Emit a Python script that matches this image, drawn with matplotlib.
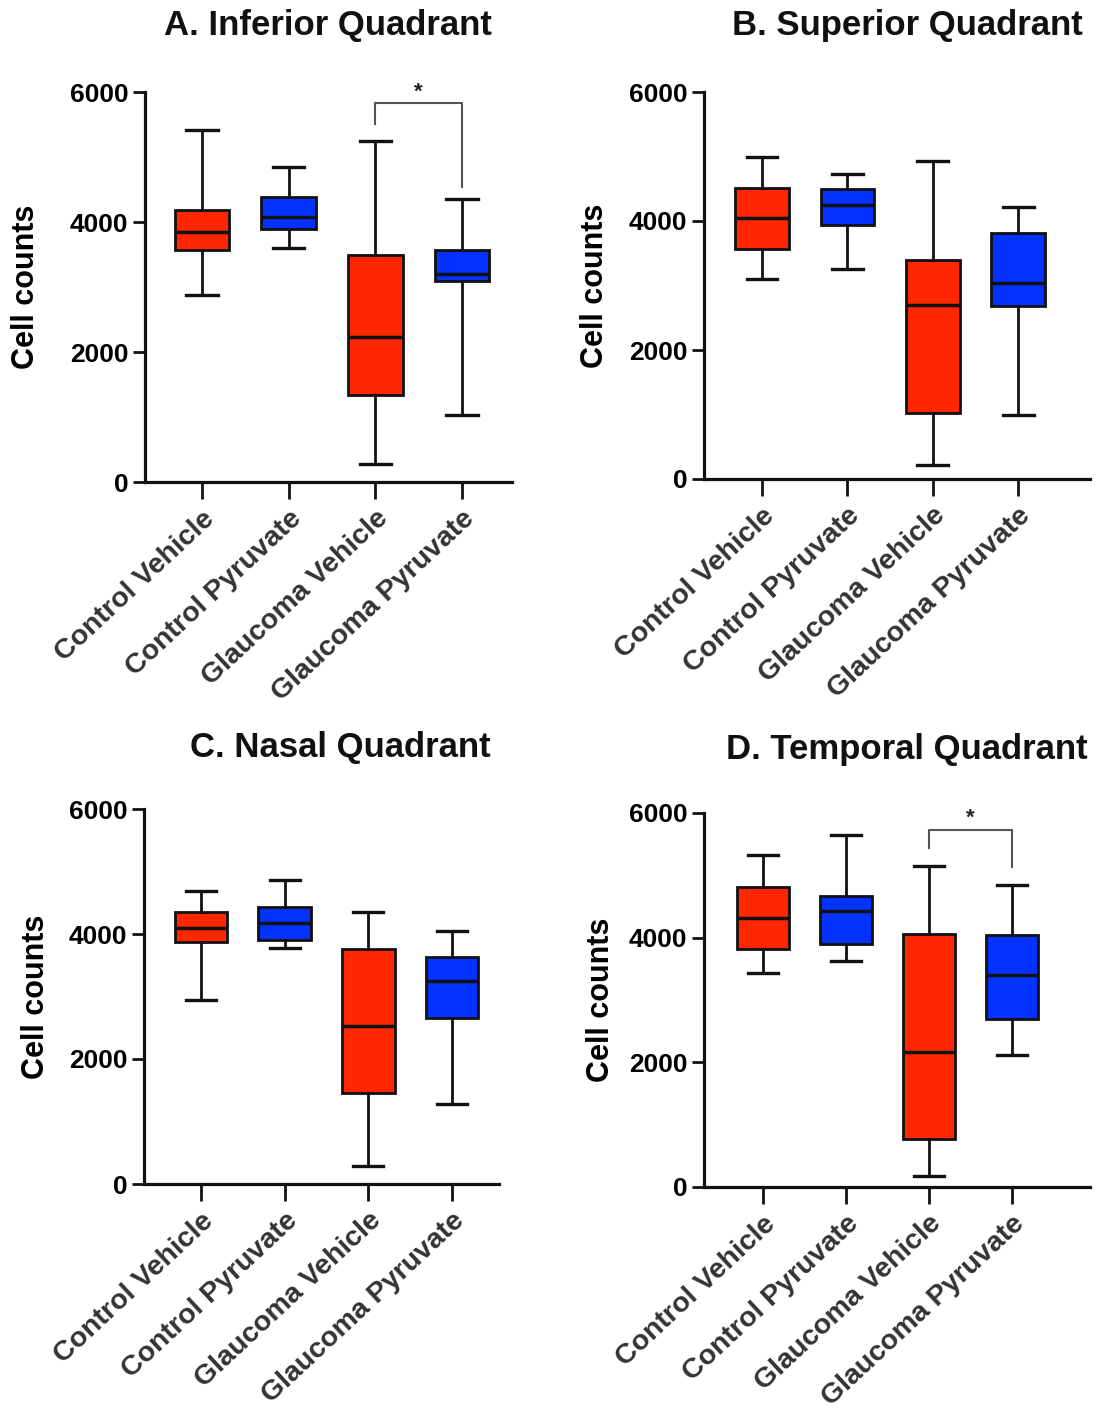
import matplotlib
matplotlib.use('Agg')
import matplotlib.pyplot as plt

plt.rcParams['font.family'] = ['Liberation Sans', 'DejaVu Sans']

W, H, DPI = 1097, 1414, 100

groups = ['Control Vehicle', 'Control Pyruvate', 'Glaucoma Vehicle', 'Glaucoma Pyruvate']
box_colors = ['#FF2600', '#0433FF', '#FF2600', '#0433FF']
yticks = [0, 2000, 4000, 6000]

# five-number summaries per quadrant: [CV, CP, GV, GP]
inf_min = [2870, 3600, 270, 1030]
inf_q1 = [3575, 3900, 1335, 3090]
inf_med = [3850, 4080, 2230, 3205]
inf_q3 = [4180, 4385, 3500, 3565]
inf_max = [5410, 4850, 5240, 4360]

sup_min = [3100, 3255, 210, 985]
sup_q1 = [3565, 3935, 1020, 2675]
sup_med = [4040, 4250, 2700, 3045]
sup_q3 = [4515, 4490, 3395, 3820]
sup_max = [4995, 4730, 4930, 4210]

nas_min = [2950, 3775, 295, 1280]
nas_q1 = [3865, 3900, 1455, 2655]
nas_med = [4095, 4175, 2535, 3245]
nas_q3 = [4350, 4425, 3765, 3625]
nas_max = [4685, 4870, 4345, 4045]

tem_min = [3430, 3620, 180, 2125]
tem_q1 = [3825, 3905, 775, 2700]
tem_med = [4315, 4430, 2160, 3405]
tem_q3 = [4815, 4675, 4065, 4050]
tem_max = [5320, 5650, 5145, 4850]

panels = [
    dict(title='A. Inferior Quadrant', lo=inf_min, q1=inf_q1, med=inf_med, q3=inf_q3, hi=inf_max,
         box=(145, 512, 92, 482), xlim=(0.343, 4.577), title_xy=(328, 25), ylab_x=-0.283,
         sig=(5830, 5515, 4540)),
    dict(title='B. Superior Quadrant', lo=sup_min, q1=sup_q1, med=sup_med, q3=sup_q3, hi=sup_max,
         box=(704, 1090, 92, 479), xlim=(0.32, 4.84), title_xy=(907, 25), ylab_x=-0.244,
         sig=None),
    dict(title='C. Nasal Quadrant', lo=nas_min, q1=nas_q1, med=nas_med, q3=nas_q3, hi=nas_max,
         box=(144, 499, 809, 1184), xlim=(0.319, 4.56), title_xy=(340, 748), ylab_x=-0.262,
         sig=None),
    dict(title='D. Temporal Quadrant', lo=tem_min, q1=tem_q1, med=tem_med, q3=tem_q3, hi=tem_max,
         box=(704, 1090, 813, 1187), xlim=(0.289, 4.94), title_xy=(907, 750), ylab_x=-0.228,
         sig=(5735, 5440, 5135)),
]

fig = plt.figure(figsize=(W / DPI, H / DPI), dpi=DPI)
fig.patch.set_facecolor('white')

LW = 2.0
for p in panels:
    l, r, t, b = p['box']
    ax = fig.add_axes([l / W, 1 - b / H, (r - l) / W, (b - t) / H])
    stats = []
    for i, g in enumerate(groups):
        stats.append(dict(label=g, whislo=p['lo'][i], q1=p['q1'][i], med=p['med'][i],
                          q3=p['q3'][i], whishi=p['hi'][i], fliers=[]))
    bp = ax.bxp(stats, positions=[1, 2, 3, 4], widths=0.63, patch_artist=True,
                showfliers=False,
                boxprops=dict(linewidth=LW, edgecolor='#111111'),
                medianprops=dict(color='#111111', linewidth=LW + 0.5),
                whiskerprops=dict(color='#111111', linewidth=LW),
                capprops=dict(color='#111111', linewidth=LW + 0.4),
                capwidths=0.36)
    for patch, c in zip(bp['boxes'], box_colors):
        patch.set_facecolor(c)

    ax.set_xlim(*p['xlim'])
    ax.set_ylim(0, 6000)
    ax.set_yticks(yticks)
    ax.set_yticklabels([str(v) for v in yticks], fontsize=19, fontweight='bold')
    ax.set_xticks([1, 2, 3, 4])
    ax.set_xticklabels(groups, rotation=43, ha='right', va='top', rotation_mode='anchor',
                       fontsize=20.5, fontweight='bold', color='#333333')
    ax.tick_params(axis='x', length=12, width=LW, color='#111111', pad=5)
    ax.tick_params(axis='y', length=9, width=LW, color='#111111', pad=3)
    for s in ('top', 'right'):
        ax.spines[s].set_visible(False)
    for s in ('left', 'bottom'):
        ax.spines[s].set_linewidth(LW + 0.3)
        ax.spines[s].set_color('#111111')
    ax.set_ylabel('Cell counts', fontsize=22, fontweight='bold')
    ax.yaxis.set_label_coords(p['ylab_x'], 0.5)
    ax.set_facecolor('none')

    if p['sig'] is not None:
        top, left_end, right_end = p['sig']
        ax.plot([3, 3, 4, 4], [left_end, top, top, right_end], color='#555555',
                linewidth=1.5, clip_on=False)
        ax.annotate('*', xy=(3.5, top), xytext=(0, 8), textcoords='offset points',
                    ha='center', va='center', fontsize=16, fontweight='bold',
                    color='#222222', annotation_clip=False)

    tx, ty = p['title_xy']
    fig.text(tx / W, 1 - ty / H, p['title'], ha='center', va='center',
             fontsize=25, fontweight='bold', color='#111111')

fig.savefig('out.png', dpi=DPI, facecolor='white')
